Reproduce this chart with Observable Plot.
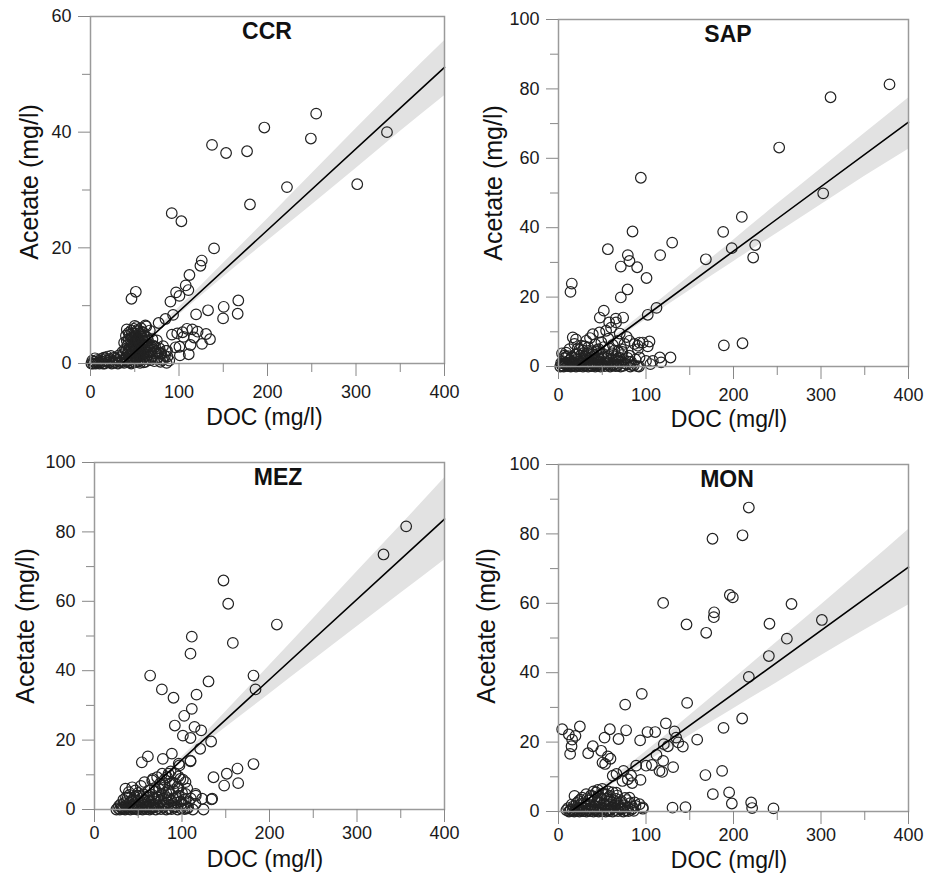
<!DOCTYPE html>
<html><head><meta charset="utf-8">
<script src="https://cdn.jsdelivr.net/npm/d3@7"></script>
<script src="https://cdn.jsdelivr.net/npm/@observablehq/plot@0.6"></script>
<style>
html,body{margin:0;padding:0;background:#fff;}
#chart{position:relative;width:934px;height:878px;background:#fff;overflow:hidden;}
#chart svg{position:absolute;background:transparent;}
</style></head><body><div id="chart"></div>
<script>
// ---------- data (DOC mg/l, Acetate mg/l) ----------
const ccrPoints = [
[335,40.0],[255,43.2],[249,38.9],[196.4,40.8],[176.9,36.7],[137.3,37.8],[153.2,36.4],[301.4,31.0],[222,30.5],[180.2,27.5],
[91.8,26.0],[102.7,24.6],[139.6,19.9],[125.7,17.8],[124.2,16.9],[111.8,15.3],[107.6,13.5],[110.6,12.7],[96.7,12.3],[100.5,11.7],
[90.3,10.7],[51.2,12.4],[46.3,11.2],[167,10.9],[150.5,9.8],[132.8,9.2],[166.3,8.6],[149.8,7.8],[119.3,8.5],[93.3,8.4],
[84.7,7.7],[77,7],[62,6.6],[92,5],[98,5.2],[109,6],[121,5.5],[130.6,5.1],[135,4.2],[117,4.5],[126,3.4],[113,3.2],
[100.5,2.9],[111,1.6],[101,1.4],[86.5,2.2],[79,1.7],[104,5.4],[96,2.8],[105,4.6],[115,5.9],
[1,0],[3,0],[4,0.3],[6,0],[7,0.6],[9,0.2],[10,0],[12,0.8],[13,0.3],[15,1.0],[16,0],[18,0.5],[19,1.2],[21,0.2],[22,0.8],
[24,0],[25,0.4],[27,1.0],[28,0.2],[30,0.6],[31,0],[33,0.3],[34,1.1],[36,0.5],[37,1.6],[38,0.1],
[2,0.5],[5,0.9],[8,0.1],[11,0.5],[14,0],[17,0.9],[20,0.4],[23,1.3],[26,0.1],[29,0.9],[32,1.4],[35,0.2],[36,2.0],
[39,2.5],[40,1],[40,4.8],[41,0.3],[42,3.2],[42,1.8],[43,5.3],[44,0.6],[44,2.6],[45,4.1],[45,1.2],[46,5.7],[46,0],[47,3.4],
[47,2.0],[48,0.8],[48,4.6],[49,6.0],[49,2.9],[50,1.5],[50,0.2],[50,5.2],[51,3.8],[51,2.4],[52,6.3],[52,0.9],[53,4.4],[53,1.9],
[54,3.0],[54,5.6],[55,0.4],[55,2.6],[56,4.9],[56,1.3],[57,3.5],[57,6.1],[58,2.1],[58,0.7],[59,4.0],[60,1.6],[60,5.3],[61,2.8],
[62,0.3],[62,3.9],[63,6.4],[64,1.9],[64,4.5],[65,2.9],[66,0.9],[67,5.7],[68,2.2],
[38,3.6],[39,0.8],[40,2.2],[41,5.9],[41,3.9],[42,0.5],[43,2.1],[43,4.0],[44,1.5],[44,5.0],[45,3.0],[45,0.2],[46,2.4],[46,4.5],
[47,1.0],[47,5.2],[48,3.1],[48,2.0],[49,0.4],[49,4.2],[50,3.3],[50,6.5],[51,1.1],[51,4.7],[52,2.8],[52,3.6],[53,0.3],[53,5.8],
[54,1.4],[54,4.1],[55,3.7],[55,5.2],[56,2.3],[56,0.1],[57,1.6],[57,4.6],[58,3.2],[58,5.5],[59,0.9],[59,2.6],[60,3.9],[60,0.2],
[61,1.2],[61,4.8],[62,2.1],[63,3.3],[63,0.8],[64,2.9],[65,1.5],[65,4.0],[66,3.2],[67,1.9],[68,0.6],[69,2.9],[70,4.2],[72,1.8],
[73,2.9],[75,0.9],[77,1.9],[81,0.6],[84,1.3],[86,0.1],
[70,1.2],[71,3.1],[72,0.4],[74,2.0],[75,4.0],[76,1.1],[78,2.6],[79,0.3],[80,1.8],[82,3.0],[83,0.8],[85,2.2],[87,1.2],[89,0.5]
];
const sapPoints = [
[378.3,81.3],[310.9,77.6],[252.2,63.1],[302.5,49.9],[94.1,54.4],[209.5,43.1],[188.2,38.8],[84.6,38.9],[198,34.1],[224.8,35.0],
[222.5,31.4],[168.4,30.9],[129.9,35.7],[56.4,33.8],[116.2,32.1],[79.2,32.1],[81.1,30.4],[71.2,28.8],[89.9,28.6],[100.6,25.5],
[15.2,23.9],[13.7,21.5],[78.9,22.2],[71.2,19.9],[112,16.9],[102,14.9],[51.8,16.1],[47.2,14.1],[73.9,14.1],[65.5,13.8],
[57.9,12.7],[189,6.1],[210.3,6.7],[104,7.2],[102,5.8],[92.6,6.9],[90.7,5],[128,2.6],[115.8,2.6],[117.3,1.2],[105,0.7],[92,0],
[2,0],[4,0.3],[6,0],[8,0.6],[10,0.1],[12,0.4],[14,0],[16,0.8],[18,0.2],[20,0],[22,0.5],[24,0.1],[26,0.9],[28,0],[30,0.3],
[32,0.7],[34,0],[36,0.4],[38,0.1],[40,0.8],[42,0],[44,0.3],[46,0.6],[48,0],[50,0.4],[53,0.1],[56,0.7],[59,0],[62,0.3],
[65,0.1],[68,0.5],[71,0],[74,0.2],[78,0.6],[82,0],[86,0.3],[90,0.1],
[5,1.5],[7,2.4],[9,1.1],[11,3.0],[13,1.8],[15,2.6],[17,1.2],[19,3.4],[21,2.0],[23,1.4],[25,3.1],[27,2.2],[29,1.0],[31,2.8],
[33,1.6],[35,3.6],[37,2.4],[39,1.2],[41,3.0],[43,1.9],[45,2.7],[47,1.3],[49,3.5],[51,2.2],[54,1.5],[57,3.0],[60,2.0],[63,1.2],
[66,2.8],[69,1.6],[72,3.3],[75,1.9],[79,2.5],[83,1.4],[88,2.0],
[3,1.0],[5,0.2],[7,0.9],[9,2.8],[11,0.6],[13,0.1],[15,1.4],[17,0.4],[19,0.9],[21,3.6],[23,0.3],[25,0.8],[27,1.5],[29,3.9],
[31,0.5],[33,2.4],[35,1.0],[37,0.2],[39,3.5],[41,0.6],[43,4.2],[45,1.1],[47,2.2],[49,0.5],[51,3.6],[53,0.9],[55,2.4],[57,0.4],
[59,1.6],[61,3.8],[63,0.6],[65,1.9],[67,0.2],[69,2.6],[71,1.2],[73,4.2],[76,0.9],[80,1.4],[84,0.4],[24,4.8],[30,5.8],[38,4.4],
[46,5.0],[58,5.2],[68,4.4],
[4,3.8],[6.8,3.1],[8.7,4],[12.5,5],[18.3,6.5],[16.3,8.4],[20,7.8],[22,5.2],[26,6.0],[28,4.6],[31.6,7.4],[34,5.5],[36,8.2],
[39.2,9.3],[42,6.4],[44,4.8],[46.8,9.8],[49,7.0],[52,5.6],[54.4,10.3],[57,8.0],[60.1,11.2],[62,6.2],[64,4.6],[65.8,12.7],
[67.8,7.4],[70,9.5],[72,5.0],[75.4,6.5],[78,8.5],[81.1,7.4],[86.9,6.5],[90.6,6.0],[96.3,6.9],[81,3.1],[92.6,2.6],[100,1.6],[107.8,1.6]
];
const mezPoints = [
[356.2,81.6],[330.3,73.5],[147.4,66.0],[152.8,59.3],[208.4,53.3],[111.2,49.8],[109.7,44.9],[158.1,48.0],[63.6,38.6],[181.7,38.6],
[184,34.6],[130.3,36.9],[77,34.6],[90.3,32.2],[116.6,33.1],[111.2,29.0],[102.5,27.0],[91.8,24.2],[114.3,23.8],[121.9,22.8],
[101,21.3],[109.7,20.6],[133.3,19.6],[120.8,17.5],[109.7,13.9],[88.4,16.1],[78.1,14.6],[61,15.3],[54.1,13.6],[97.1,12.7],
[181.7,13.1],[163.4,11.8],[151.2,10.3],[136,9.3],[148.2,6.9],[164.2,7.6],[101,8.6],[84.6,10.3],[66.7,8.8],[57.1,7.9],
[133.7,2.9],[115.8,4],[112.4,0],[124.6,0],
[25,0],[27,0.4],[29,0],[31,0.6],[33,0.1],[35,0],[37,0.5],[39,0.2],[41,0],[43,0.7],[45,0.1],[47,0.4],[49,0],[51,0.6],[53,0.2],
[55,0],[57,0.5],[59,0.1],[61,0.8],[63,0],[65,0.3],[67,0.6],[70,0],[73,0.4],[76,0.1],[79,0.7],[82,0],[85,0.3],[88,0.1],[91,0.5],
[95,0],[99,0.3],[103,0.1],[107,0.6],
[30,1.5],[33,2.8],[36,1.2],[38,3.4],[40,2.0],[42,1.0],[44,3.0],[46,1.8],[48,4.0],[50,2.5],[52,1.2],[54,3.3],[56,2.0],[58,1.0],
[60,3.6],[62,2.4],[64,1.3],[66,4.2],[68,2.8],[70,1.5],[72,3.5],[74,2.2],[77,4.5],[79,1.6],[81,3.0],[84,2.0],[86,4.4],[88,1.2],
[90,3.2],[93,2.0],[96,4.0],[99,1.5],[102,2.8],[104,4.5],[115.4,4.5],[123,3.1],[134.5,3.1],[115.4,1.6],[110,3.2],
[28,1.0],[32,0.3],[34,1.8],[36,3.5],[38,0.8],[40,4.2],[42,2.4],[44,0.4],[46,3.6],[48,1.4],[50,0.9],[52,3.9],[54,1.6],[56,4.4],
[58,2.6],[60,0.6],[62,4.0],[64,2.1],[66,0.9],[68,3.4],[70,5.2],[72,1.0],[74,3.9],[76,2.5],[78,6.2],[80,1.1],[82,4.8],[84,3.3],
[86,7.4],[88,2.5],[90,5.6],[92,0.9],[94,3.5],[96,6.0],[98,2.3],[100,4.8],[102,1.3],[104,3.0],[106,0.3],[108,2.2],[96,9.5],
[92,7.6],[80,8.6],[75,7.5],
[35.4,6.0],[39.2,5.0],[43.1,6.4],[46.8,5.5],[50,4.8],[53,6.8],[62,5.5],[65.9,8.4],[69,6.2],[71.6,9.3],[74,5.8],[77.3,10.3],
[80,7.0],[83,9.3],[85,5.4],[87,11],[89,7.8],[92.6,10.3],[95,6.6],[98,8.8],[104,7.9],[106,6.0],[96.3,13.2],[109.7,14.1]
];
const monPoints = [
[217.5,87.6],[210.3,79.6],[176,78.6],[119.6,60.1],[195.8,62.4],[199.2,61.7],[266.3,59.8],[301,55.2],[241.1,54.1],[177.9,57.4],
[177.5,56],[146.3,53.9],[168.8,51.5],[261,49.8],[240.4,44.8],[217.5,38.8],[95.2,33.9],[147,31.3],[76.2,30.8],[209.9,26.8],
[122.7,25.4],[188.6,24.1],[101.7,22.9],[110.5,22.9],[77.3,23.4],[58.7,23.7],[24.4,24.5],[4.2,23.7],[11.8,22.2],[19.4,21.8],
[15.6,20.7],[13.3,16.6],[14.9,18.8],[33.9,16.8],[39.2,18.8],[52.6,21.3],[68.6,20.9],[93.3,20.5],[158.5,20.7],[132.6,23.1],
[134.5,21.3],[136.8,19.9],[142.1,18.7],[125,18.8],[120.4,19.4],[112,16.3],[106.7,13.4],[118.5,11.4],[131,12.8],[119.6,14.6],
[48.8,17.5],[56.4,15.9],[50.3,14.1],[53.3,13.7],[59.4,15.2],[66.3,10.8],[74.3,11.7],[83,10.3],[84.2,8.2],[93.7,9.1],
[88.8,13.2],[73.1,8.8],[167.9,10.5],[187,11.7],[176.4,5],[195,5.5],[198.1,2.3],[220.2,2.6],[221.3,1],[245.7,0.9],
[130.3,1.1],[145.1,1.25],[96.4,0.8],[62,10.3],[79.2,9.3],[100.1,13.2],[115.4,11.7],
[9,0.4],[12,0],[14,0.5],[16,0.1],[18,0],[20,0.6],[22,0.2],[24,0],[26,0.4],[28,0.1],[30,0.7],[32,0],[34,0.3],[36,0.1],[38,0.6],
[40,0],[42,0.4],[44,0.2],[46,0],[48,0.5],[50,0.1],[52,0.7],[54,0],[56,0.3],[58,0.1],[60,0.6],[62,0],[65,0.4],[68,0.1],[71,0.6],
[74,0],[77,0.3],[80,0.1],[83,0.5],[86,0.2],
[11,1.0],[13,0.2],[17,1.5],[19,0.3],[21,2.5],[23,0.8],[25,3.4],[27,1.1],[29,0.2],[31,2.0],[33,3.8],[35,0.8],[37,4.6],[39,1.2],
[41,3.2],[43,0.6],[45,4.4],[47,2.5],[49,0.9],[51,5.2],[53,1.8],[55,3.6],[57,0.5],[59,4.5],[61,1.3],[63,3.2],[65,2.0],[67,4.6],
[69,1.5],[71,2.6],[73,0.8],[76,3.9],[79,1.2],[82,2.4],[85,0.9],[88,1.6],[45,6.2],[50,6.5],[40,5.8],[57,5.8],[66,5.4],
[15,2.0],[18.3,4.5],[21,1.2],[23,3.0],[25,1.8],[27,4.0],[29,2.4],[31.6,5.0],[33,1.3],[35,3.2],[37,2.0],[39,4.4],[41,1.5],
[43,5.5],[45,2.8],[47,1.2],[49,3.8],[51,2.2],[53,4.8],[54.4,5.0],[56,1.6],[58,3.4],[60,2.0],[62,5.5],[64,1.2],[66,3.6],
[68,2.4],[70,1.0],[72,3.0],[75,1.8],[78,3.3],[81.1,4.0],[84,1.5],[86.9,2.6],[92.6,2.1],[96.3,1.2]
];

// fitted line end points and confidence band
const ccrFit = [[36,0],[400,51.2]];
const sapFit = [[21,0],[400,70.4]];
const mezFit = [[38,0],[400,83.7]];
const monFit = [[14,0],[400,70.4]];
const bandX = [50,100,150,200,250,300,350,400];
const ccrBandLo = [2.1,8.4,14.9,21.2,27.4,33.7,40.1,46.3];
const ccrBandHi = [2.5,9.7,17.3,25.0,32.8,40.6,48.3,55.8];
const sapBandLo = [5.0,13.5,21.9,30.2,38.4,46.6,54.8,62.6];
const sapBandHi = [5.8,15.9,26.1,36.4,46.8,57.0,67.2,77.4];
const mezBandLo = [2.2,13.5,23.6,33.3,43.0,52.7,62.3,71.9];
const mezBandHi = [3.4,15.1,28.2,41.5,55.0,68.5,81.9,95.5];
const monBandLo = [5.8,14.1,21.9,29.6,37.2,44.9,52.3,59.5];
const monBandHi = [7.4,17.3,27.7,38.2,48.9,59.5,70.3,81.3];

const siteNames = ["CCR","SAP","MEZ","MON"];
const xMajorTicks = [0,100,200,300,400];
const xMinorTicks = [50,150,250,350];
const yMajor60 = [0,20,40,60], yMinor60 = [10,30,50];
const yMajor100 = [0,20,40,60,80,100], yMinor100 = [10,30,50,70,90];
const xTitle = "DOC (mg/l)";
const yTitle = "Acetate (mg/l)";

// ---------- layout ----------
const panels = [
  {name:siteNames[0], pts:ccrPoints, fit:ccrFit, lo:ccrBandLo, hi:ccrBandHi, yMax:60, yMaj:yMajor60, yMin:yMinor60,
   left:0, top:0, h:440, m:[16,23,77,90], tdx:-0.5, ydx:-61, ydy:-8, xdx:-3, xdy:54, xpad:9},
  {name:siteNames[1], pts:sapPoints, fit:sapFit, lo:sapBandLo, hi:sapBandHi, yMax:100, yMaj:yMajor100, yMin:yMinor100,
   left:467, top:0, h:440, m:[19,26,74,91], tdx:-5.5, ydx:-65, ydy:-10, xdx:-4.5, xdy:53, xpad:9},
  {name:siteNames[2], pts:mezPoints, fit:mezFit, lo:mezBandLo, hi:mezBandHi, yMax:100, yMaj:yMajor100, yMin:yMinor100,
   left:0, top:440, h:438, m:[22,23,69,94], tdx:8.5, ydx:-69, ydy:-10, xdx:-4.5, xdy:50, xpad:4},
  {name:siteNames[3], pts:monPoints, fit:monFit, lo:monBandLo, hi:monBandHi, yMax:100, yMaj:yMajor100, yMin:yMinor100,
   left:467, top:440, h:438, m:[24,26,67,91], tdx:-6.5, ydx:-72, ydy:-12, xdx:-4.5, xdy:49, xpad:4}
];

const FONT = '"Liberation Sans", Arial, Helvetica, sans-serif';
const container = document.getElementById("chart");

for (const p of panels) {
  const band = bandX.map((x, i) => ({x, lo: p.lo[i], hi: p.hi[i]}));
  const svg = Plot.plot({
    width: 467, height: p.h,
    marginTop: p.m[0], marginRight: p.m[1], marginBottom: p.m[2], marginLeft: p.m[3],
    x: {domain: [0, 400]},
    y: {domain: [0, p.yMax]},
    style: {fontFamily: FONT, color: "#1a1a1a", background: "transparent", overflow: "visible"},
    marks: [
      Plot.areaY(band, {x: "x", y1: "lo", y2: "hi", fill: "#e2e2e2", curve: "monotone-x"}),
      Plot.dot(p.pts, {x: d => d[0], y: d => d[1], r: 5.3, stroke: "#222", strokeWidth: 1.2, fill: "none"}),
      Plot.line(p.fit, {x: d => d[0], y: d => d[1], stroke: "#000", strokeWidth: 1.6}),
      Plot.frame({stroke: "#9a9a9a", strokeWidth: 1.5}),
      Plot.axisY(p.yMin, {anchor: "left", tickSize: 8, tickFormat: () => "", stroke: "#888", label: null}),
      Plot.axisY(p.yMaj, {anchor: "left", tickSize: 12, tickPadding: 7, fontSize: 18, stroke: "#888", label: null, tickFormat: d => String(d)}),
      Plot.axisX(xMinorTicks, {anchor: "bottom", tickSize: 9, tickFormat: () => "", stroke: "#888", label: null}),
      Plot.axisX(xMajorTicks, {anchor: "bottom", tickSize: 13, tickPadding: p.xpad, fontSize: 18, stroke: "#888", label: null, tickFormat: d => String(d)}),
      Plot.text([p.name], {frameAnchor: "top", text: d => d, dx: p.tdx, dy: 15, lineAnchor: "middle", textAnchor: "middle", fontWeight: "bold", fontSize: 23, fill: "#111"}),
      Plot.text([xTitle], {frameAnchor: "bottom", text: d => d, dx: p.xdx, dy: p.xdy, lineAnchor: "middle", textAnchor: "middle", fontSize: 23, fill: "#111"}),
      Plot.text([yTitle], {frameAnchor: "left", text: d => d, dx: p.ydx, dy: p.ydy, rotate: -90, lineAnchor: "middle", textAnchor: "middle", fontSize: 25, fill: "#111"})
    ]
  });
  svg.style.left = p.left + "px";
  svg.style.top = p.top + "px";
  container.appendChild(svg);
}
</script></body></html>
